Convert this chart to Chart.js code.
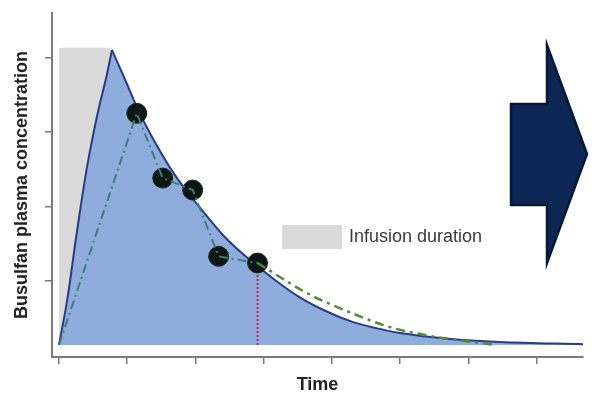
<!DOCTYPE html>
<html>
<head>
<meta charset="utf-8">
<script src="https://cdn.jsdelivr.net/npm/chart.js@4"></script>
<style>
  html, body { margin: 0; padding: 0; background: #fff; }
  #wrap { width: 596px; height: 404px; }
</style>
</head>
<body>
<div id="wrap"><canvas id="pk" width="596" height="404"></canvas></div>
<script>
// time in tick units, concentration in tick units
var riseTime = [0, 0.12, 0.26, 0.41, 0.56, 0.70, 0.777];
var riseConc = [0, 0.60, 1.50, 2.38, 3.08, 3.62, 3.96];

var decayTime = [0.777, 0.97, 1.14, 1.33, 1.70, 2.07, 2.43, 2.80, 3.17, 3.53, 3.90, 4.27, 4.63, 5.00, 5.73, 6.46, 7.68];
var decayConc = [3.96, 3.56, 3.20, 2.85, 2.28, 1.84, 1.45, 1.14, 0.87, 0.64, 0.46, 0.32, 0.23, 0.16, 0.08, 0.04, 0.01];

var sampleTime = [1.14, 1.52, 1.96, 2.34, 2.91];
var sampleConc = [3.11, 2.24, 2.08, 1.19, 1.10];

var extrapTime = [2.91, 3.63, 4.26, 4.85, 5.39, 6.06, 6.41];
var extrapConc = [1.10, 0.70, 0.44, 0.24, 0.13, 0.04, 0.0];

var infusionStart = 0, infusionEnd = 0.76, infusionTop = 3.99;

var xTicks = [0, 1, 2, 3, 4, 5, 6, 7];
var yTicks = [0.86, 1.86, 2.86, 3.85];

function pts(xs, ys) {
  return xs.map(function (x, i) { return { x: x, y: ys[i] }; });
}

var fillBlue = '#8eaddc';
var curveBlue = '#2c3a86';

var extras = {
  id: 'extras',
  afterDatasetsDraw: function (chart) {
    var ctx = chart.ctx;
    var xs = chart.scales.x, ys = chart.scales.y;
    // legend box inside the plot
    var lx0 = xs.getPixelForValue(3.27), lx1 = xs.getPixelForValue(4.15);
    var ly0 = ys.getPixelForValue(1.61), ly1 = ys.getPixelForValue(1.29);
    ctx.save();
    ctx.fillStyle = '#dadada';
    ctx.fillRect(lx0, ly0, lx1 - lx0, ly1 - ly0);
    ctx.fillStyle = '#3a3a3a';
    ctx.font = '18px "Liberation Sans", Arial, sans-serif';
    ctx.textBaseline = 'alphabetic';
    ctx.fillText('Infusion duration', xs.getPixelForValue(4.25), ys.getPixelForValue(1.38));

    // block arrow on the right
    ctx.beginPath();
    ctx.moveTo(511, 104);
    ctx.lineTo(547, 104);
    ctx.lineTo(547, 45);
    ctx.lineTo(587, 154);
    ctx.lineTo(547, 263);
    ctx.lineTo(547, 205);
    ctx.lineTo(511, 205);
    ctx.closePath();
    ctx.fillStyle = '#0e2653';
    ctx.fill();
    ctx.lineWidth = 2.5;
    ctx.strokeStyle = '#071737';
    ctx.stroke();
    ctx.restore();
  }
};

new Chart(document.getElementById('pk'), {
  type: 'scatter',
  data: {
    datasets: [
      {
        // measured samples
        data: pts(sampleTime, sampleConc),
        pointRadius: 10,
        pointBackgroundColor: '#0c1612',
        pointBorderColor: '#1a2a22',
        pointBorderWidth: 1,
        order: 2
      },
      {
        // observed profile, dash-dot
        data: [{ x: 0, y: 0 }].concat(pts(sampleTime, sampleConc)),
        showLine: true,
        pointRadius: 0,
        borderColor: '#3c7f78',
        borderWidth: 2,
        borderDash: [9, 4, 2, 4],
        order: 1
      },
      {
        // extrapolated tail
        data: pts(extrapTime, extrapConc),
        showLine: true,
        pointRadius: 0,
        borderColor: '#4f8a3c',
        borderWidth: 2.5,
        borderDash: [9, 5, 3, 5],
        cubicInterpolationMode: 'monotone',
        order: 1
      },
      {
        // last sample drop line
        data: [{ x: sampleTime[4], y: sampleConc[4] }, { x: sampleTime[4], y: 0 }],
        showLine: true,
        pointRadius: 0,
        borderColor: '#d2206e',
        borderWidth: 2,
        borderDash: [2, 2],
        order: 3
      },
      {
        // model rise
        data: pts(riseTime, riseConc),
        showLine: true,
        pointRadius: 0,
        fill: 'origin',
        backgroundColor: fillBlue,
        borderColor: curveBlue,
        borderWidth: 2,
        cubicInterpolationMode: 'monotone',
        order: 4
      },
      {
        // model decay
        data: pts(decayTime, decayConc),
        showLine: true,
        pointRadius: 0,
        fill: 'origin',
        backgroundColor: fillBlue,
        borderColor: curveBlue,
        borderWidth: 2,
        cubicInterpolationMode: 'monotone',
        order: 4
      },
      {
        // infusion duration band
        data: [{ x: infusionStart, y: infusionTop }, { x: infusionEnd, y: infusionTop }],
        showLine: true,
        pointRadius: 0,
        fill: 'origin',
        backgroundColor: '#dadada',
        borderWidth: 0,
        order: 5
      }
    ]
  },
  options: {
    responsive: false,
    animation: false,
    events: [],
    layout: { padding: { left: 0, top: 13, right: 13, bottom: 0 } },
    plugins: { legend: { display: false }, tooltip: { enabled: false } },
    scales: {
      x: {
        type: 'linear',
        min: -0.102,
        max: 7.68,
        afterBuildTicks: function (s) { s.ticks = xTicks.map(function (v) { return { value: v }; }); },
        afterFit: function (s) { s.height = 47; },
        ticks: { display: false },
        grid: { drawOnChartArea: false, drawTicks: true, tickLength: 7, color: '#7a7a7a', lineWidth: 1.5 },
        border: { color: '#7a7a7a', width: 2 },
        title: {
          display: true,
          text: 'Time',
          color: '#222',
          font: { family: '"Liberation Sans", Arial, sans-serif', size: 18, weight: 'bold' },
          padding: { top: 0, bottom: 8 }
        }
      },
      y: {
        type: 'linear',
        min: -0.161,
        max: 4.456,
        afterBuildTicks: function (s) { s.ticks = yTicks.map(function (v) { return { value: v }; }); },
        afterFit: function (s) { s.width = 52; },
        ticks: { display: false },
        grid: { drawOnChartArea: false, drawTicks: true, tickLength: 7, color: '#7a7a7a', lineWidth: 1.5 },
        border: { color: '#7a7a7a', width: 2 },
        title: {
          display: true,
          text: 'Busulfan plasma concentration',
          color: '#222',
          font: { family: '"Liberation Sans", Arial, sans-serif', size: 18, weight: 'bold' },
          padding: { top: 11, bottom: 0 }
        }
      }
    }
  },
  plugins: [extras]
});
</script>
</body>
</html>
